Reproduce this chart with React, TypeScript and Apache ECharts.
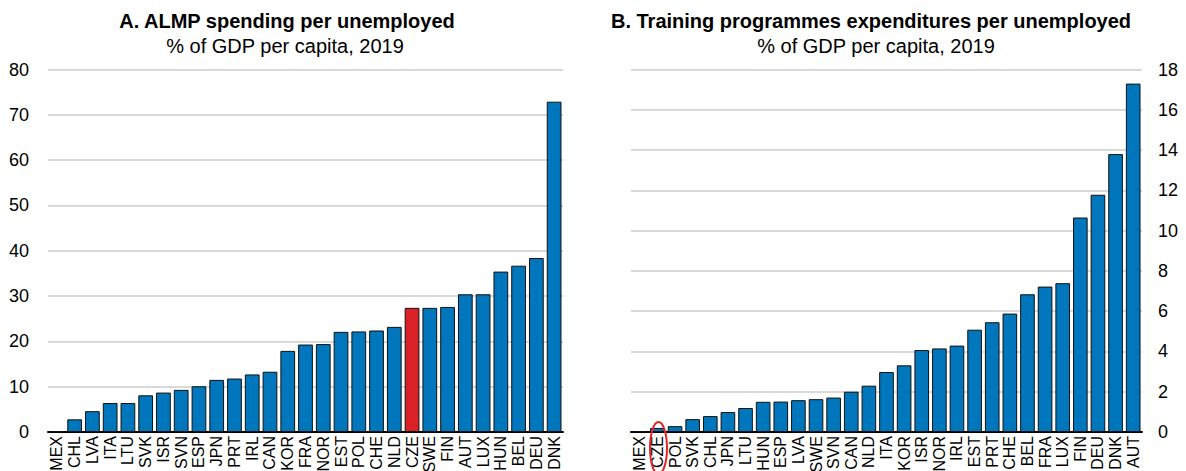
import React, { useEffect, useRef } from "react";
import * as echarts from "echarts";

const leftCategories = ["MEX", "CHL", "LVA", "ITA", "LTU", "SVK", "ISR", "SVN", "ESP", "JPN", "PRT", "IRL", "CAN", "KOR", "FRA", "NOR", "EST", "POL", "CHE", "NLD", "CZE", "SWE", "FIN", "AUT", "LUX", "HUN", "BEL", "DEU", "DNK"];
const leftValues = [0.2, 2.8, 4.6, 6.4, 6.4, 8.1, 8.7, 9.3, 10.1, 11.5, 11.8, 12.7, 13.3, 17.9, 19.3, 19.4, 22.1, 22.2, 22.4, 23.2, 27.4, 27.4, 27.6, 30.4, 30.4, 35.4, 36.7, 38.4, 72.9];

const rightCategories = ["MEX", "CZE", "POL", "SVK", "CHL", "JPN", "LTU", "HUN", "ESP", "LVA", "SWE", "SVN", "CAN", "NLD", "ITA", "KOR", "ISR", "NOR", "IRL", "EST", "PRT", "CHE", "BEL", "FRA", "LUX", "FIN", "DEU", "DNK", "AUT"];
const rightValues = [0.05, 0.2, 0.29, 0.64, 0.79, 0.99, 1.19, 1.5, 1.51, 1.58, 1.63, 1.71, 2.0, 2.3, 2.98, 3.31, 4.07, 4.15, 4.29, 5.08, 5.45, 5.88, 6.84, 7.22, 7.39, 10.65, 11.78, 13.8, 17.3];

const highlightLeft = "CZE";

const leftTitle = "A. ALMP spending per unemployed";
const rightTitle = "B. Training programmes expenditures per unemployed";
const subTitle = "% of GDP per capita, 2019";

const BLUE = "#0077BD";
const RED = "#DA2128";
const FONT = "'Liberation Sans', Arial, sans-serif";

export default function App() {
  const ref = useRef<HTMLDivElement>(null);
  useEffect(() => {
    if (!ref.current) return;
    const chart = echarts.init(ref.current, null, { renderer: "svg" });
    const xAxisCommon = {
      type: "category",
      axisTick: { show: false },
      axisLine: { lineStyle: { color: "#000", width: 2 } },
      axisLabel: { rotate: 90, interval: 0, fontSize: 16, color: "#000", fontFamily: FONT, margin: 4 },
    };
    const yAxisCommon = {
      type: "value",
      axisLine: { show: false },
      axisTick: { show: false },
      splitLine: { lineStyle: { color: "#cccccc", width: 1.5 } },
      axisLabel: { fontSize: 18, color: "#000", fontFamily: FONT },
    };
    chart.setOption({
      animation: false,
      textStyle: { fontFamily: FONT },
      grid: [
        { left: 48, top: 69.5, width: 515, height: 362.5, outerBoundsMode: "none", containLabel: false },
        { left: 631, top: 69.5, width: 511, height: 362.5, outerBoundsMode: "none", containLabel: false },
      ],
      xAxis: [
        { ...xAxisCommon, gridIndex: 0, data: leftCategories },
        { ...xAxisCommon, gridIndex: 1, data: rightCategories },
      ],
      yAxis: [
        { ...yAxisCommon, gridIndex: 0, min: 0, max: 80, interval: 10, axisLabel: { ...yAxisCommon.axisLabel, margin: 19 } },
        { ...yAxisCommon, gridIndex: 1, position: "right", min: 0, max: 18, interval: 2, axisLabel: { ...yAxisCommon.axisLabel, margin: 16 } },
      ],
      series: [
        {
          type: "bar",
          xAxisIndex: 0,
          yAxisIndex: 0,
          barCategoryGap: "17%",
          itemStyle: { color: BLUE, borderColor: "#111", borderWidth: 1 },
          data: leftValues.map((v, i) =>
            leftCategories[i] === highlightLeft
              ? { value: v, itemStyle: { color: RED, borderColor: "#111", borderWidth: 1 } }
              : v
          ),
        },
        {
          type: "bar",
          xAxisIndex: 1,
          yAxisIndex: 1,
          barCategoryGap: "17%",
          itemStyle: { color: BLUE, borderColor: "#111", borderWidth: 1 },
          data: rightValues,
        },
      ],
      graphic: [
        { type: "text", x: 287, y: 21, style: { text: leftTitle, font: `bold 20px ${FONT}`, fill: "#000", textAlign: "center", textVerticalAlign: "middle" } },
        { type: "text", x: 285, y: 46, style: { text: subTitle, font: `20px ${FONT}`, fill: "#000", textAlign: "center", textVerticalAlign: "middle" } },
        { type: "text", x: 871, y: 21, style: { text: rightTitle, font: `bold 20px ${FONT}`, fill: "#000", textAlign: "center", textVerticalAlign: "middle" } },
        { type: "text", x: 876, y: 46, style: { text: subTitle, font: `20px ${FONT}`, fill: "#000", textAlign: "center", textVerticalAlign: "middle" } },
        { type: "ellipse", shape: { cx: 658.5, cy: 448, rx: 8.5, ry: 26 }, style: { fill: "none", stroke: "#E0262B", lineWidth: 2 }, z: 100 },
      ],
    });
    return () => chart.dispose();
  }, []);
  return <div ref={ref} style={{ position: "absolute", left: 0, top: 0, width: 1186, height: 471 }} />;
}
